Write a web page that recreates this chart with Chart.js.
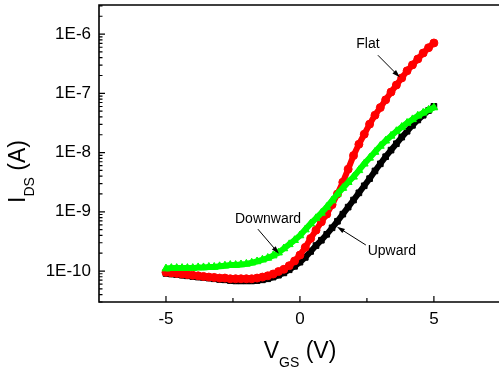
<!DOCTYPE html>
<html>
<head>
<meta charset="utf-8">
<script src="https://cdn.jsdelivr.net/npm/chart.js@4.4.1/dist/chart.umd.min.js"></script>
<style>
  html, body { margin: 0; padding: 0; background: #fff; }
</style>
</head>
<body>
<canvas id="myChart" width="499" height="370"></canvas>
<script>
// gate voltage sweep (V)
const vgs = [-5.0, -4.8, -4.6, -4.4, -4.2, -4.0, -3.8, -3.6, -3.4, -3.2,
             -3.0, -2.8, -2.6, -2.4, -2.2, -2.0, -1.8, -1.6, -1.4, -1.2,
             -1.0, -0.8, -0.6, -0.4, -0.2, 0.0, 0.2, 0.4, 0.6, 0.8,
             1.0, 1.2, 1.4, 1.6, 1.8, 2.0, 2.2, 2.4, 2.6, 2.8,
             3.0, 3.2, 3.4, 3.6, 3.8, 4.0, 4.2, 4.4, 4.6, 4.8, 5.0];

// drain current (A) for each bending state
const flat = [9.5e-11, 9.3e-11, 9.1e-11, 8.9e-11, 8.7e-11, 8.5e-11, 8.3e-11, 8.1e-11, 7.9e-11, 7.8e-11,
              7.6e-11, 7.6e-11, 7.4e-11, 7.4e-11, 7.4e-11, 7.4e-11, 7.4e-11, 7.6e-11, 7.9e-11, 8.3e-11,
              8.9e-11, 9.8e-11, 1.07e-10, 1.23e-10, 1.48e-10, 1.86e-10, 2.51e-10, 3.55e-10, 4.90e-10, 6.76e-10,
              9.12e-10, 1.32e-9, 2.00e-9, 3.16e-9, 5.25e-9, 8.91e-9, 1.38e-8, 2.04e-8, 3.02e-8, 4.27e-8,
              5.75e-8, 7.76e-8, 1.05e-7, 1.38e-7, 1.82e-7, 2.40e-7, 3.02e-7, 3.80e-7, 4.79e-7, 5.89e-7, 7.08e-7];

const upward = [9.1e-11, 8.9e-11, 8.7e-11, 8.5e-11, 8.3e-11, 8.1e-11, 7.9e-11, 7.8e-11, 7.6e-11, 7.4e-11,
                7.2e-11, 7.1e-11, 6.9e-11, 6.8e-11, 6.8e-11, 6.8e-11, 6.8e-11, 6.9e-11, 7.1e-11, 7.4e-11,
                7.9e-11, 8.5e-11, 9.3e-11, 1.05e-10, 1.20e-10, 1.41e-10, 1.70e-10, 2.14e-10, 2.69e-10, 3.31e-10,
                4.17e-10, 5.37e-10, 6.92e-10, 9.12e-10, 1.20e-9, 1.58e-9, 2.09e-9, 2.75e-9, 3.63e-9, 4.90e-9,
                6.46e-9, 8.51e-9, 1.10e-8, 1.41e-8, 1.82e-8, 2.29e-8, 2.88e-8, 3.55e-8, 4.27e-8, 5.13e-8, 6.03e-8];

const downward = [1.10e-10, 1.12e-10, 1.12e-10, 1.12e-10, 1.12e-10, 1.12e-10, 1.15e-10, 1.15e-10, 1.17e-10, 1.17e-10,
                  1.20e-10, 1.23e-10, 1.26e-10, 1.26e-10, 1.29e-10, 1.32e-10, 1.38e-10, 1.45e-10, 1.55e-10, 1.66e-10,
                  1.82e-10, 2.04e-10, 2.40e-10, 2.82e-10, 3.31e-10, 3.98e-10, 5.01e-10, 6.31e-10, 7.76e-10, 9.55e-10,
                  1.20e-9, 1.55e-9, 2.00e-9, 2.51e-9, 3.16e-9, 3.89e-9, 5.01e-9, 6.46e-9, 8.13e-9, 1.02e-8,
                  1.29e-8, 1.58e-8, 1.91e-8, 2.29e-8, 2.69e-8, 3.16e-8, 3.63e-8, 4.17e-8, 4.68e-8, 5.25e-8, 5.75e-8];

// tick labels
const xTickValues = [-5, 0, 5];
const xMinorTicks = [-2.5, 2.5];
const yTickValues = [1e-10, 1e-9, 1e-8, 1e-7, 1e-6];

// callout labels with arrows, in data units (V, A)
const notes = [
  { text: 'Flat',     tx: 2.54,  ty: 6.8e-7,  x1: 2.91,  y1: 4.4e-7,  x2: 3.73,  y2: 1.86e-7 },
  { text: 'Downward', tx: -1.19, ty: 7.6e-10, x1: -1.57, y1: 5.1e-10, x2: -0.78, y2: 1.95e-10 },
  { text: 'Upward',   tx: 3.43,  ty: 2.2e-10, x1: 2.46,  y1: 2.75e-10, x2: 1.38,  y2: 5.6e-10 }
];

const FONT = '"Liberation Sans", Arial, sans-serif';

function toPoints(ys) {
  return vgs.map((v, i) => ({ x: v, y: ys[i] }));
}

// draw "main" + subscript + rest centred on cx, baseline at by
function drawSubTitle(ctx, main, sub, rest, cx, by) {
  ctx.font = '23px ' + FONT;
  const w1 = ctx.measureText(main).width;
  const w3 = ctx.measureText(rest).width;
  ctx.font = '14px ' + FONT;
  const w2 = ctx.measureText(sub).width;
  let x = cx - (w1 + w2 + w3) / 2;
  ctx.textAlign = 'left';
  ctx.textBaseline = 'alphabetic';
  ctx.font = '23px ' + FONT;
  ctx.fillText(main, x, by);
  x += w1;
  ctx.font = '14px ' + FONT;
  ctx.fillText(sub, x, by + 9);
  x += w2;
  ctx.font = '23px ' + FONT;
  ctx.fillText(rest, x, by);
}

const framePlugin = {
  id: 'frame',
  afterDraw(chart) {
    const ctx = chart.ctx;
    const a = chart.chartArea;
    const xs = chart.scales.x;
    const ys = chart.scales.y;
    ctx.save();
    ctx.strokeStyle = '#000';
    ctx.fillStyle = '#000';

    // axes box (open on the right)
    ctx.lineWidth = 1.6;
    ctx.beginPath();
    ctx.moveTo(a.right, a.top);
    ctx.lineTo(a.left, a.top);
    ctx.lineTo(a.left, a.bottom);
    ctx.lineTo(a.right, a.bottom);
    ctx.stroke();

    // inward ticks
    ctx.lineWidth = 1.2;
    ctx.beginPath();
    xTickValues.forEach(v => {
      const px = xs.getPixelForValue(v);
      ctx.moveTo(px, a.bottom); ctx.lineTo(px, a.bottom - 6);
    });
    xMinorTicks.forEach(v => {
      const px = xs.getPixelForValue(v);
      ctx.moveTo(px, a.bottom); ctx.lineTo(px, a.bottom - 4);
    });
    for (let e = -11; e <= -6; e++) {
      for (let m = 1; m <= 9; m++) {
        const v = m * Math.pow(10, e);
        if (v < ys.min || v > ys.max) continue;
        const py = ys.getPixelForValue(v);
        ctx.moveTo(a.left, py); ctx.lineTo(a.left + (m === 1 ? 6 : 3.5), py);
      }
    }
    ctx.stroke();

    // axis titles
    drawSubTitle(ctx, 'V', 'GS', ' (V)', (a.left + a.right) / 2 + 1, 358);
    ctx.save();
    ctx.translate(25, (a.top + a.bottom) / 2 + 18);
    ctx.rotate(-Math.PI / 2);
    drawSubTitle(ctx, 'I', 'DS', ' (A)', 0, 0);
    ctx.restore();

    // callouts
    ctx.font = '14px ' + FONT;
    ctx.textAlign = 'center';
    ctx.textBaseline = 'middle';
    ctx.lineWidth = 1;
    notes.forEach(n => {
      ctx.fillText(n.text, xs.getPixelForValue(n.tx), ys.getPixelForValue(n.ty));
      const x1 = xs.getPixelForValue(n.x1), y1 = ys.getPixelForValue(n.y1);
      const x2 = xs.getPixelForValue(n.x2), y2 = ys.getPixelForValue(n.y2);
      const ang = Math.atan2(y2 - y1, x2 - x1);
      ctx.beginPath();
      ctx.moveTo(x1, y1);
      ctx.lineTo(x2 - 5 * Math.cos(ang), y2 - 5 * Math.sin(ang));
      ctx.stroke();
      ctx.beginPath();
      ctx.moveTo(x2, y2);
      ctx.lineTo(x2 - 8 * Math.cos(ang) + 2.5 * Math.sin(ang), y2 - 8 * Math.sin(ang) - 2.5 * Math.cos(ang));
      ctx.lineTo(x2 - 8 * Math.cos(ang) - 2.5 * Math.sin(ang), y2 - 8 * Math.sin(ang) + 2.5 * Math.cos(ang));
      ctx.closePath();
      ctx.fill();
    });
    ctx.restore();
  }
};

const ctx = document.getElementById('myChart').getContext('2d');
const myChart = new Chart(ctx, {
  type: 'line',
  data: {
    datasets: [
      {
        label: 'Downward',
        data: toPoints(downward),
        borderColor: '#00ff00',
        backgroundColor: '#00ff00',
        borderWidth: 6,
        pointStyle: 'triangle',
        pointRadius: 4.5,
        pointBorderWidth: 1
      },
      {
        label: 'Flat',
        data: toPoints(flat),
        borderColor: '#ff0000',
        backgroundColor: '#ff0000',
        borderWidth: 6,
        pointStyle: 'circle',
        pointRadius: 4,
        pointBorderWidth: 1
      },
      {
        label: 'Upward',
        data: toPoints(upward),
        borderColor: '#000000',
        backgroundColor: '#000000',
        borderWidth: 6,
        pointStyle: 'rect',
        pointRadius: 4,
        pointBorderWidth: 1
      }
    ]
  },
  options: {
    responsive: false,
    animation: false,
    devicePixelRatio: 1,
    layout: { autoPadding: false, padding: { top: 5, right: 0, left: 0, bottom: 0 } },
    plugins: {
      legend: { display: false },
      tooltip: { enabled: false }
    },
    scales: {
      x: {
        type: 'linear',
        min: -7.5,
        max: 7.43,
        grid: { display: false, drawTicks: false },
        border: { display: false },
        afterBuildTicks: s => { s.ticks = xTickValues.map(v => ({ value: v })); },
        afterFit: s => { s.height = 68; s.paddingLeft = 0; s.paddingRight = 0; },
        ticks: {
          autoSkip: false,
          maxRotation: 0,
          padding: 7,
          color: '#000',
          font: { family: FONT, size: 17 },
          callback: v => String(v)
        }
      },
      y: {
        type: 'logarithmic',
        min: 3.0e-11,
        max: 3.1e-6,
        grid: { display: false, drawTicks: false },
        border: { display: false },
        afterBuildTicks: s => { s.ticks = yTickValues.map(v => ({ value: v })); },
        afterFit: s => { s.width = 99; s.paddingTop = 0; s.paddingBottom = 0; },
        ticks: {
          autoSkip: false,
          padding: 8,
          color: '#000',
          font: { family: FONT, size: 17 },
          callback: v => '1E' + Math.round(Math.log10(v))
        }
      }
    }
  },
  plugins: [framePlugin]
});
</script>
</body>
</html>
